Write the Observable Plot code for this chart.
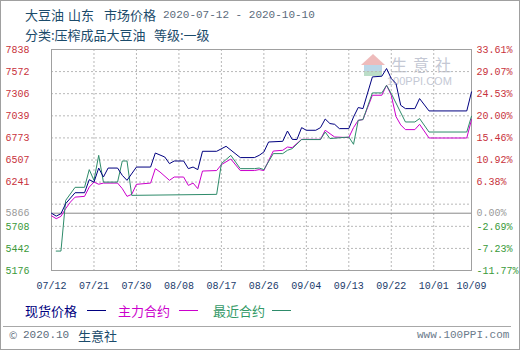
<!DOCTYPE html>
<html><head><meta charset="utf-8">
<script src="https://cdn.jsdelivr.net/npm/d3@7"></script>
<script src="https://cdn.jsdelivr.net/npm/@observablehq/plot@0.6"></script>
<style>
body{margin:0;background:#fff;}
#wrap{position:relative;width:518px;height:348px;border:1px solid #a0a0a0;font-family:"Noto Sans CJK SC",sans-serif;overflow:hidden;background:#fff;}
.t{position:absolute;white-space:pre;font-size:13px;line-height:15px;}
.mono{font-family:"Liberation Mono",monospace;}
.lg{position:absolute;height:0;border-top:1px solid;}
#chart{position:absolute;left:0;top:39px;}
</style></head>
<body><div id="wrap">
<span class="t" style="left:24px;top:6px;color:#1b4b6b">大豆油</span>
<span class="t" style="left:67px;top:6px;color:#1b4b6b">山东</span>
<span class="t" style="left:103px;top:6px;color:#1b4b6b">市场价格</span>
<span class="t mono" style="left:162px;top:7px;color:#5b6b7b;font-size:11px;line-height:14px">2020-07-12 - 2020-10-10</span>
<span class="t" style="left:24px;top:26px;color:#1b4b6b">分类:压榨成品大豆油</span>
<span class="t" style="left:153px;top:26px;color:#1b4b6b">等级:一级</span>

<div id="wm" style="position:absolute;left:360px;top:53px;width:24px;height:24px;opacity:0.35">
  <div style="position:absolute;left:0;top:0;width:0;height:0;border-left:12px solid transparent;border-right:12px solid transparent;border-bottom:11px solid #d04040"></div>
  <div style="position:absolute;left:3px;top:11px;width:18px;height:11px;background:#4090c0"></div>
  <div style="position:absolute;left:3px;top:17px;width:18px;height:5px;background:#40a060"></div>
</div>
<span class="t" style="left:390px;top:55px;color:#c4c8d4;font-size:16px;line-height:17px;letter-spacing:6px">生意社</span>
<span class="t" style="left:386px;top:75px;color:#c4c8d4;font-family:'Liberation Sans',sans-serif;font-size:11px;line-height:11px">100PPI.COM</span>

<div id="chart"></div>

<span class="t" style="left:24px;top:302px;color:#000080">现货价格</span>
<div class="lg" style="left:86px;top:309px;width:19px;border-color:#000080"></div>
<span class="t" style="left:117px;top:302px;color:#cc00cc">主力合约</span>
<div class="lg" style="left:178px;top:309px;width:19px;border-color:#cc00cc"></div>
<span class="t" style="left:212px;top:302px;color:#339966">最近合约</span>
<div class="lg" style="left:271px;top:309px;width:19px;border-color:#2e8b6a"></div>

<div style="position:absolute;left:2px;top:325px;width:508px;height:0;border-top:1px solid #a8a8a8"></div>
<span class="t" style="left:8px;top:328px;color:#5b6b7b;font-size:10px;line-height:12px">©</span>
<span class="t mono" style="left:22px;top:328px;color:#5b6b7b;font-size:11px;line-height:13px">2020.10</span>
<span class="t" style="left:77px;top:327px;color:#1b4b6b">生意社</span>
<span class="t mono" style="left:416px;top:328px;color:#6b7b8b;font-size:11px;line-height:13px">www.100PPI.com</span>
</div>
<script>
// ---- data ----
const base = 5866;
const leftTicks = [7838, 7572, 7306, 7039, 6773, 6507, 6241, 5866, 5708, 5442, 5176];
const pctLabels = ["33.61%", "29.07%", "24.53%", "20.00%", "15.46%", "10.92%", "6.38%", "0.00%", "-2.69%", "-7.23%", "-11.77%"];
const gridTicks = [7838, 7572, 7306, 7039, 6773, 6507, 6241, 5975, 5708, 5442, 5176];
const xTickLabels = ["07/12", "07/21", "07/30", "08/08", "08/17", "08/26", "09/04", "09/13", "09/22", "10/01", "10/09"];

const spotDates = ["07-12","07-13","07-14","07-15","07-17","07-19","07-20","07-21","07-22","07-23","07-24","07-26","07-27","07-28","07-30","08-02","08-03","08-05","08-06","08-07","08-09","08-10","08-11","08-12","08-13","08-16","08-18","08-21","08-24","08-25","08-26","08-27","08-30","08-31","09-01","09-02","09-03","09-04","09-06","09-07","09-08","09-09","09-10","09-11","09-13","09-14","09-15","09-16","09-18","09-20","09-21","09-22","09-23","09-24","09-25","09-27","09-28","09-30","10-08","10-09"];
const spotValues = [5866,5831,5860,5981,6113,6113,6270,6240,6410,6302,6410,6410,6322,6262,6422,6422,6591,6543,6463,6495,6495,6403,6422,6391,6612,6612,6672,6536,6536,6563,6603,6724,6732,6856,6756,6753,6897,6865,6865,6897,7001,6946,6937,6885,6885,7025,7139,7126,7508,7516,7609,7488,7428,7166,7126,7126,7247,7098,7098,7327];

const mainDates = ["07-12","07-13","07-14","07-15","07-16","07-17","07-19","07-20","07-21","07-22","07-23","07-26","07-27","07-28","07-29","07-30","08-02","08-03","08-04","08-06","08-07","08-09","08-10","08-11","08-12","08-13","08-16","08-17","08-19","08-21","08-24","08-25","08-26","08-28","08-30","08-31","09-01","09-03","09-07","09-08","09-10","09-13","09-14","09-15","09-16","09-18","09-20","09-21","09-22","09-23","09-24","09-25","09-27","09-28","09-30","10-08","10-09"];
const mainValues = [5835,5800,5828,5921,6000,6060,6069,6181,6241,6215,6229,6229,6162,6069,6093,6214,6229,6403,6362,6262,6302,6302,6201,6229,6162,6374,6380,6451,6519,6380,6380,6391,6380,6615,6624,6663,6656,6756,6756,6865,6784,6777,6897,6985,6994,7287,7287,7407,7287,7030,6930,6873,6873,6937,6772,6772,6994];

const nearDates = ["07-13","07-14","07-15","07-17","07-19","07-20","07-21","07-22","07-23","07-26","07-27","07-28","07-29","08-16","08-17","08-19","08-21","08-24","08-25","08-26","08-28","08-30","08-31","09-01","09-03","09-07","09-08","09-09","09-13","09-14","09-15","09-16","09-18","09-20","09-21","09-22","09-25","09-27","09-28","09-30","10-08","10-09"];
const nearValues = [5410,5410,6020,6178,6178,6391,6262,6563,6241,6241,6495,6495,6081,6093,6463,6563,6403,6403,6410,6391,6584,6584,6624,6644,6753,6753,6844,6765,6784,6696,6985,6994,7315,7315,7407,7307,6965,6965,7006,6844,6844,7034];

// ---- build ----
const toDate = s => new Date("2020-" + s.replace("/", "-") + "T00:00:00Z");
const rows = (dates, vals) => dates.map((d, i) => ({date: toDate(d), value: vals[i]}));
const spot = rows(spotDates, spotValues);
const main = rows(mainDates, mainValues);
const near = rows(nearDates, nearValues);
const xTicks = xTickLabels.map(toDate);
const xLabel = new Map(xTicks.map((d, i) => [+d, xTickLabels[i]]));

const red = "#c8323c", gray = "#9a9a9a", green = "#3a9a3a";
const upTicks = leftTicks.filter(v => v > base);
const downTicks = leftTicks.filter(v => v < base);
const pct = v => pctLabels[leftTicks.indexOf(v)];
const font = {fontSize: 10, fontFamily: "Liberation Mono, monospace"};

const chart = Plot.plot({
  width: 518,
  height: 260,
  marginLeft: 50,
  marginRight: 48,
  marginTop: 9,
  marginBottom: 30,
  style: {background: "transparent"},
  x: {type: "utc", domain: [xTicks[0], xTicks[xTicks.length - 1]]},
  y: {domain: [5176, 7838]},
  marks: [
    Plot.gridY(gridTicks, {stroke: "#b8b8b8", strokeOpacity: 1, strokeDasharray: "2,2"}),
    Plot.gridX(xTicks.slice(1, -1), {stroke: "#b8b8b8", strokeOpacity: 1, strokeDasharray: "2,2"}),
    Plot.ruleY([base], {stroke: "#8a8a8a"}),
    Plot.frame({stroke: "#a0a0a0"}),
    Plot.axisX(xTicks, {tickSize: 0, tickPadding: 11, tickFormat: d => xLabel.get(+d), fill: "#1b3b6b", label: null, ...font}),
    Plot.axisY(upTicks, {anchor: "left", tickSize: 0, tickPadding: 22, fill: red, label: null, tickFormat: d => String(d), ...font}),
    Plot.axisY([base], {anchor: "left", tickSize: 0, tickPadding: 22, fill: gray, label: null, tickFormat: d => String(d), ...font}),
    Plot.axisY(downTicks, {anchor: "left", tickSize: 0, tickPadding: 22, fill: green, label: null, tickFormat: d => String(d), ...font}),
    Plot.axisY(upTicks, {anchor: "right", tickSize: 0, tickPadding: 5, fill: red, label: null, tickFormat: pct, ...font}),
    Plot.axisY([base], {anchor: "right", tickSize: 0, tickPadding: 5, fill: gray, label: null, tickFormat: pct, ...font}),
    Plot.axisY(downTicks, {anchor: "right", tickSize: 0, tickPadding: 5, fill: green, label: null, tickFormat: pct, ...font}),
    Plot.line(main, {x: "date", y: "value", stroke: "#cc00cc", strokeWidth: 1}),
    Plot.line(near, {x: "date", y: "value", stroke: "#2e8b6a", strokeWidth: 1}),
    Plot.line(spot, {x: "date", y: "value", stroke: "#000080", strokeWidth: 1})
  ]
});
document.getElementById("chart").appendChild(chart);
</script>
</body></html>
